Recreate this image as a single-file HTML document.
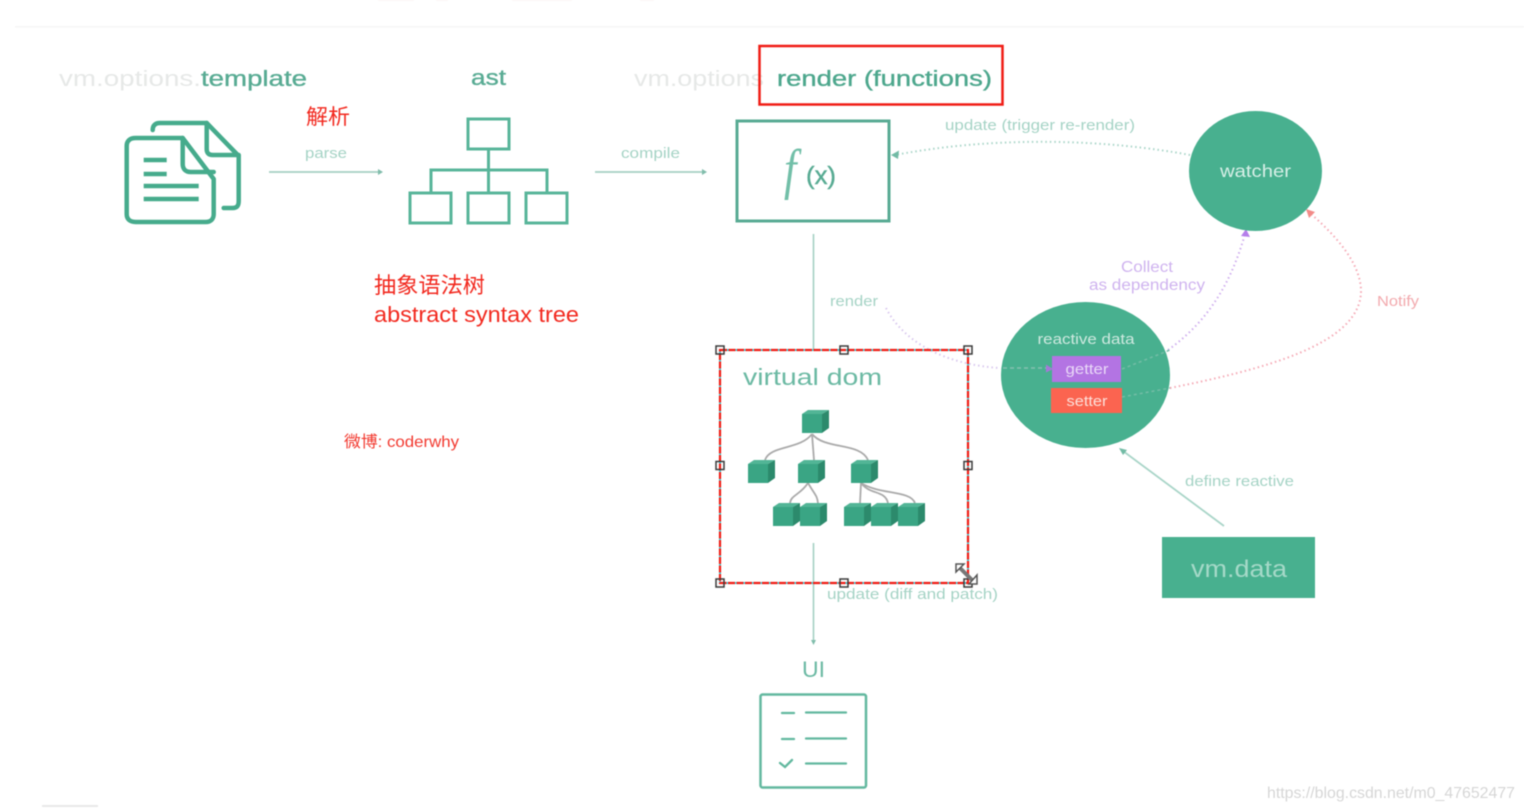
<!DOCTYPE html>
<html>
<head>
<meta charset="utf-8">
<title>Vue render pipeline diagram</title>
<style>
html,body{margin:0;padding:0;background:#fff;width:1524px;height:810px;overflow:hidden}
svg{display:block;filter:blur(.5px)}
text{font-family:"Liberation Sans","Noto Sans CJK SC",sans-serif}
</style>
</head>
<body>
<svg width="1524" height="810" viewBox="0 0 1524 810" xmlns="http://www.w3.org/2000/svg">
<defs>
<g id="c">
<path d="M0 4L6 0H27L20 4Z" fill="#52b596"/>
<path d="M20 4L27 0V18L20 23Z" fill="#2c8a6c"/>
<rect x="0" y="4" width="20" height="19" fill="#3aa584"/>
</g>
</defs>
<rect x="15" y="26" width="1509" height="1.5" fill="#f6f6f6"/>
<rect x="42" y="805" width="56" height="2" fill="#e8e8e8"/>
<g fill="#fcf6f5">
<rect x="378" y="0" width="36" height="1"/>
<rect x="436" y="0" width="12" height="1"/>
<rect x="512" y="0" width="60" height="1"/>
<rect x="640" y="0" width="14" height="1"/>
</g>

<!-- headings -->
<text x="59" y="86" font-size="22" fill="#e6e8e7" textLength="142" lengthAdjust="spacingAndGlyphs">vm.options.</text>
<text x="201" y="86" font-size="22" fill="#58ab93" stroke="#58ab93" stroke-width=".35" textLength="106" lengthAdjust="spacingAndGlyphs">template</text>
<text x="471" y="85" font-size="22" fill="#58ab93" stroke="#58ab93" stroke-width=".35" textLength="35" lengthAdjust="spacingAndGlyphs">ast</text>
<text x="634" y="86" font-size="22" fill="#e6e8e7" textLength="130" lengthAdjust="spacingAndGlyphs">vm.options</text>
<text x="777" y="86" font-size="22" fill="#4da78d" stroke="#4da78d" stroke-width=".35" textLength="215" lengthAdjust="spacingAndGlyphs">render (functions)</text>
<rect x="759.500" y="46" width="243" height="58.500" fill="none" stroke="#f01c14" stroke-width="2.500"/>

<!-- document icon -->
<g transform="translate(.7,0)" fill="none" stroke="#46ab8c" stroke-width="4.500" stroke-linejoin="round" stroke-linecap="round">
<path d="M152 130C152 125 155 123 159 123H206L238 156V201C238 206 236 208 232 208H223"/>
<path d="M206 123V149C206 153 208 155 212 155H238"/>
<path d="M182 138H135C129 138 126 141 126 146V214C126 219 129 222 135 222H205C210 222 213 219 213 214V179Z"/>
<path d="M182 138V164C182 169 185 172 190 172H213"/>
<path d="M143 160H166M143 174H166M143 186H198M143 199H198" stroke-linecap="butt"/>
</g>

<!-- parse -->
<text x="305" y="158" font-size="14.500" fill="#a5d3c5" textLength="42" lengthAdjust="spacingAndGlyphs">parse</text>
<text x="306" y="124" font-size="21" fill="#f2291f" textLength="44" lengthAdjust="spacingAndGlyphs">解析</text>
<path d="M269 172H379" stroke="#a4cfc2" stroke-width="1.800"/>
<path d="M378 169L383 172L378 175Z" fill="#80bdab"/>

<!-- ast icon -->
<g fill="none" stroke="#58b59a" stroke-width="3">
<rect x="468" y="119" width="41" height="30"/>
<rect x="410" y="193" width="41" height="30"/>
<rect x="468" y="193" width="41" height="30"/>
<rect x="526" y="193" width="41" height="30"/>
<path d="M488.500 149V193M431 193V170H547V193"/>
</g>

<!-- compile -->
<text x="621" y="158" font-size="14.500" fill="#a5d3c5" textLength="59" lengthAdjust="spacingAndGlyphs">compile</text>
<path d="M595 172H703" stroke="#a4cfc2" stroke-width="1.800"/>
<path d="M702 169L707 172L702 175Z" fill="#80bdab"/>

<!-- red notes -->
<text x="374" y="293" font-size="22" fill="#f2291f" textLength="111" lengthAdjust="spacingAndGlyphs">抽象语法树</text>
<text x="374" y="322" font-size="22" fill="#f2291f" textLength="205" lengthAdjust="spacingAndGlyphs">abstract syntax tree</text>
<text x="344" y="447" font-size="16" fill="#f2392f" textLength="115" lengthAdjust="spacingAndGlyphs">微博: coderwhy</text>

<!-- f(x) box -->
<rect x="737" y="121" width="152" height="100" fill="#fff" stroke="#58ab93" stroke-width="3"/>
<text transform="translate(784,188) scale(.8,1)" font-size="56" font-style="italic" fill="#72bfa8" style="font-family:'Liberation Serif',serif">f</text>
<text x="806" y="184" font-size="25" fill="#58ab93" stroke="#58ab93" stroke-width=".4" textLength="30" lengthAdjust="spacingAndGlyphs">(x)</text>

<!-- vertical lines -->
<path d="M813.500 234V350M813.500 543V642" stroke="#a4d0c3" stroke-width="1.600"/>
<path d="M811 640L813.500 645L816 640Z" fill="#80bdab"/>
<text x="830" y="306" font-size="14.500" fill="#a5d3c5" textLength="48" lengthAdjust="spacingAndGlyphs">render</text>
<text x="827" y="599" font-size="15" fill="#a5d3c5" textLength="171" lengthAdjust="spacingAndGlyphs">update (diff and patch)</text>

<!-- dotted connectors -->
<path d="M1190 155C1110 140 1000 135 895 155" fill="none" stroke="#a9d5c8" stroke-width="2" stroke-dasharray="1.500 3"/>
<path d="M891 155L899 150.500L898 159Z" fill="#72bba5"/>
<text x="945" y="130" font-size="15" fill="#a5d3c5" textLength="190" lengthAdjust="spacingAndGlyphs">update (trigger re-render)</text>
<path d="M886 308C905 345 950 365 1000 368" fill="none" stroke="#d9c8ee" stroke-width="2" stroke-dasharray="1.500 3"/>
<path d="M1168 350C1210 320 1232 280 1245 234" fill="none" stroke="#cfaeee" stroke-width="2" stroke-dasharray="1.500 3"/>
<path d="M1246 229L1250 237L1241 236Z" fill="#b57eea"/>
<text x="1147" y="272" font-size="15.500" fill="#cfb3ef" text-anchor="middle" textLength="52" lengthAdjust="spacingAndGlyphs">Collect</text>
<text x="1147" y="290" font-size="15.500" fill="#cfb3ef" text-anchor="middle" textLength="116" lengthAdjust="spacingAndGlyphs">as dependency</text>
<path d="M1170 388C1260 370 1362 345 1361 290C1360 262 1335 235 1310 213" fill="none" stroke="#f5a9b5" stroke-width="2" stroke-dasharray="1.500 3"/>
<path d="M1306 209L1315 212L1309 218Z" fill="#f28b88"/>
<text x="1377" y="306" font-size="15" fill="#f2a9ad" textLength="42" lengthAdjust="spacingAndGlyphs">Notify</text>

<!-- watcher -->
<ellipse cx="1255.500" cy="171" rx="66.500" ry="60" fill="#48b08f"/>
<text x="1255.500" y="177" font-size="17.500" fill="#d7efe7" text-anchor="middle" textLength="71" lengthAdjust="spacingAndGlyphs">watcher</text>

<!-- reactive data -->
<ellipse cx="1085.500" cy="375" rx="84.500" ry="73" fill="#48b08f"/>
<text x="1086" y="344" font-size="15" fill="#cfe9e0" text-anchor="middle" textLength="97" lengthAdjust="spacingAndGlyphs">reactive data</text>
<path d="M1003 368H1047" stroke="#86c0b0" stroke-width="1.600" stroke-dasharray="4 3"/>
<path d="M1046 364.500L1053 369L1046 372.500Z" fill="#a578d8"/>
<rect x="1052" y="356" width="69" height="26" fill="#b374e3"/>
<text x="1087" y="374" font-size="15" fill="#e9d8f7" text-anchor="middle" textLength="43" lengthAdjust="spacingAndGlyphs">getter</text>
<rect x="1051" y="388" width="71" height="25" fill="#fb6450"/>
<text x="1087" y="406" font-size="15" fill="#fde0da" text-anchor="middle" textLength="41" lengthAdjust="spacingAndGlyphs">setter</text>
<path d="M1122 369L1170 350" stroke="#74bda6" stroke-width="1.500" stroke-dasharray="3 3"/>
<path d="M1122 397L1170 388" stroke="#74bda6" stroke-width="1.500" stroke-dasharray="3 3"/>

<!-- vm.data -->
<path d="M1224 526L1123 451" stroke="#a9d5c8" stroke-width="1.800"/>
<path d="M1119 448L1127 450L1123 455Z" fill="#72bba5"/>
<text x="1185" y="486" font-size="15" fill="#a5d3c5" textLength="109" lengthAdjust="spacingAndGlyphs">define reactive</text>
<rect x="1162" y="537" width="153" height="61" fill="#48b08f"/>
<text x="1191" y="577" font-size="24" fill="#a5d9c8" textLength="96" lengthAdjust="spacingAndGlyphs">vm.data</text>

<!-- virtual dom -->
<text x="743" y="385" font-size="23" fill="#6bb9a3" textLength="139" lengthAdjust="spacingAndGlyphs">virtual dom</text>
<g fill="none" stroke="#aaaaaa" stroke-width="1.800">
<path d="M812 434C800 450 770 445 765 460M812 434L814 460M812 434C825 450 860 442 868 460"/>
<path d="M808 483C800 495 791 495 790 503M808 483C815 495 817 495 818 503"/>
<path d="M861 483L860 503M861 483C870 495 885 490 888 503M861 483C880 495 910 490 915 503"/>
</g>
<use href="#c" x="802" y="410"/>
<use href="#c" x="748" y="460"/>
<use href="#c" x="798" y="460"/>
<use href="#c" x="851" y="460"/>
<use href="#c" x="773" y="503"/>
<use href="#c" x="800" y="503"/>
<use href="#c" x="844" y="503"/>
<use href="#c" x="871" y="503"/>
<use href="#c" x="898" y="503"/>

<!-- selection -->
<rect x="720" y="350" width="248" height="233" fill="none" stroke="#3fd6e0" stroke-width="2"/>
<rect x="720" y="350" width="248" height="233" fill="none" stroke="#f01c14" stroke-width="2.200" stroke-dasharray="7 1.500"/>
<g fill="none" stroke="#3a3a3a" stroke-width="1.500">
<rect x="716" y="346" width="8" height="8"/>
<rect x="840" y="346" width="8" height="8"/>
<rect x="964" y="346" width="8" height="8"/>
<rect x="716" y="461.500" width="8" height="8"/>
<rect x="964" y="461.500" width="8" height="8"/>
<rect x="716" y="579" width="8" height="8"/>
<rect x="840" y="579" width="8" height="8"/>
<rect x="964" y="579" width="8" height="8"/>
</g>
<path d="M958 566L973 581" stroke="#777" stroke-width="4"/>
<path d="M956 564H964L956 572ZM977 575V584H969Z" fill="#fff" stroke="#555" stroke-width="1.500"/>

<!-- UI -->
<text x="813.500" y="677" font-size="22" fill="#6bb9a3" text-anchor="middle" textLength="23" lengthAdjust="spacingAndGlyphs">UI</text>
<rect x="760.500" y="694.500" width="105.500" height="93" rx="2" fill="none" stroke="#62b89f" stroke-width="2.500"/>
<g fill="none" stroke="#62b89f" stroke-width="2.300" stroke-linecap="round">
<path d="M782 713H794M806 712.500H846M782 739H794M806 738.500H846M806 763.500H846"/>
<path d="M780 763L785 767L792 760"/>
</g>

<!-- watermark -->
<text x="1267" y="798" font-size="16" fill="#d6d6d6" textLength="248" lengthAdjust="spacingAndGlyphs">https://blog.csdn.net/m0_47652477</text>
</svg>
</body>
</html>
